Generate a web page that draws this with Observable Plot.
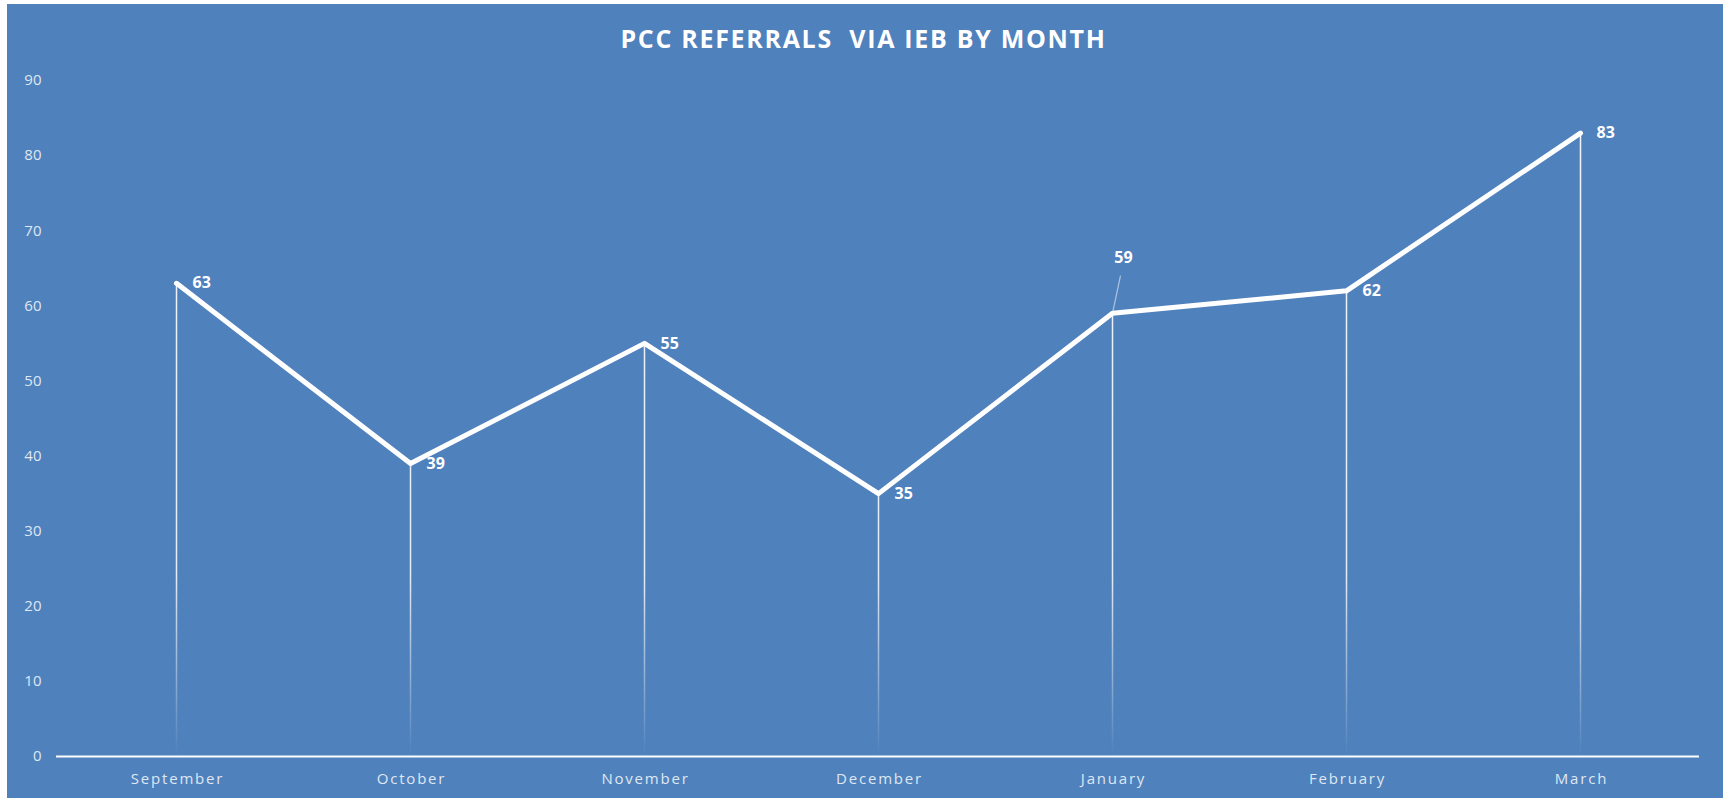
<!DOCTYPE html>
<html>
<head>
<meta charset="utf-8">
<script src="https://cdn.jsdelivr.net/npm/d3@7"></script>
<script src="https://cdn.jsdelivr.net/npm/@observablehq/plot@0.6"></script>
<style>
  html, body { margin: 0; padding: 0; background: #ffffff; }
  #wrap { position: absolute; left: 7px; top: 4px; width: 1716px; height: 794px; background: #4f81bd; overflow: hidden; }
  #title { position: absolute; left: 0; width: 1713px; top: 22px; text-align: center; font-family: "Open Sans", sans-serif; font-weight: 700; font-size: 25px; line-height: 25px; letter-spacing: 1.7px; color: #ffffff; white-space: pre; }
  #chart { position: absolute; left: 0; top: 0; }
</style>
</head>
<body>
<div id="wrap">
  <div id="chart"></div>
  <div id="title">PCC REFERRALS  VIA IEB BY MONTH</div>
</div>
<script>
const months = ["September", "October", "November", "December", "January", "February", "March"];
const referrals = [63, 39, 55, 35, 59, 62, 83];
const yTicks = [0, 10, 20, 30, 40, 50, 60, 70, 80, 90];
const leaderMonth = "January";

const data = months.map((m, i) => ({month: m, value: referrals[i]}));
const labelColor = "#dfe7f2";

const leaderShape = {
  draw(context, l) {
    context.moveTo(0, -3);
    context.lineTo(0, -l);
  }
};

const chart = Plot.plot({
  width: 1716,
  height: 794,
  marginLeft: 49,
  marginRight: 24,
  marginTop: 76,
  marginBottom: 42,
  style: {background: "transparent", fontFamily: "'Open Sans', sans-serif", overflow: "visible"},
  x: {type: "point", domain: months, padding: 0.5},
  y: {domain: [0, 90]},
  marks: [
    Plot.axisY({ticks: yTicks, tickSize: 0, tickPadding: 15, color: labelColor, fontSize: 15, label: null}),
    Plot.axisX({tickSize: 0, tickPadding: 17, color: labelColor, fontSize: 15, label: null, dx: 1}),
    Plot.ruleX(data, {x: "month", y1: 0, y2: "value", stroke: "url(#dropFade)", strokeWidth: 1.5}),
    Plot.ruleY([0], {stroke: "#ffffff", strokeWidth: 2}),
    Plot.line(data, {x: "month", y: "value", stroke: "#ffffff", strokeWidth: 5, strokeLinejoin: "round", strokeLinecap: "round"}),
    Plot.vector(data.filter(d => d.month === leaderMonth), {x: "month", y: "value", length: 38, rotate: 12, anchor: "start", shape: leaderShape, stroke: "#ffffff", strokeOpacity: 0.5, strokeWidth: 1.3}),
    Plot.text(data.filter(d => d.month !== leaderMonth), {x: "month", y: "value", text: d => String(d.value), dx: 16, textAnchor: "start", fill: "#ffffff", fontWeight: "bold", fontSize: 16}),
    Plot.text(data.filter(d => d.month === leaderMonth), {x: "month", y: "value", text: d => String(d.value), dx: 11, dy: -55, textAnchor: "middle", fill: "#ffffff", fontWeight: "bold", fontSize: 16})
  ]
});

const svg = d3.select(chart);
const defs = svg.insert("defs", ":first-child");
const grad = defs.append("linearGradient")
  .attr("id", "dropFade")
  .attr("gradientUnits", "userSpaceOnUse")
  .attr("x1", 0).attr("y1", 0).attr("x2", 0).attr("y2", 752);
grad.append("stop").attr("offset", 0).attr("stop-color", "#ffffff").attr("stop-opacity", 0.95);
grad.append("stop").attr("offset", 0.76).attr("stop-color", "#ffffff").attr("stop-opacity", 0.85);
grad.append("stop").attr("offset", 1).attr("stop-color", "#ffffff").attr("stop-opacity", 0);

svg.selectAll('g[aria-label="x-axis tick label"] text').attr("letter-spacing", "1.8px");

document.getElementById("chart").appendChild(chart);
</script>
</body>
</html>
